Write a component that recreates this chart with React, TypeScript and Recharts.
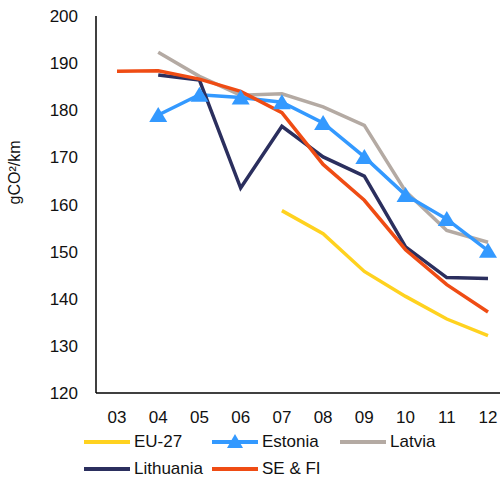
import { LineChart, Line, XAxis, YAxis } from "recharts";

const years = ["03", "04", "05", "06", "07", "08", "09", "10", "11", "12"];
const eu27 = [null, null, null, null, 158.7, 153.8, 145.8, 140.5, 135.7, 132.2];
const estonia = [null, 179, 183.3, 182.7, 181.7, 177.3, 170.1, 162, 156.9, 150.2];
const latvia = [null, 192.3, 187.2, 183.2, 183.5, 180.7, 176.8, 162.8, 154.5, 152];
const lithuania = [null, 187.5, 186.4, 163.5, 176.6, 170.1, 166, 151, 144.5, 144.3];
const sefi = [188.3, 188.4, 186.6, 184, 179.5, 168.5, 160.9, 150.4, 143, 137.2];
const yTicks = [120, 130, 140, 150, 160, 170, 180, 190, 200];

const data = years.map((y, i) => ({
  year: y,
  eu27: eu27[i],
  estonia: estonia[i],
  latvia: latvia[i],
  lithuania: lithuania[i],
  sefi: sefi[i],
}));

const font = "'Liberation Sans', Arial, sans-serif";

const Triangle = (props: any) => {
  const { cx, cy } = props;
  if (cx == null || cy == null) return null;
  return <path d={`M${cx},${cy - 8} L${cx + 9},${cy + 7} L${cx - 9},${cy + 7} Z`} fill="#3399ff" />;
};

const legendRows = [
  [
    { name: "EU-27", color: "#ffd21f", tri: false },
    { name: "Estonia", color: "#3399ff", tri: true },
    { name: "Latvia", color: "#b4aaa3", tri: false },
  ],
  [
    { name: "Lithuania", color: "#2b2f5e", tri: false },
    { name: "SE & FI", color: "#ef4c14", tri: false },
  ],
];

export default function App() {
  return (
    <div style={{ position: "absolute", left: 0, top: 0, width: 502, height: 486, background: "#fff", fontFamily: font }}>
      <LineChart width={502} height={430} data={data} margin={{ top: 16, right: 2, left: 0, bottom: 0 }}>
        <XAxis
          dataKey="year"
          padding={{ left: 21, right: 12 }}
          tick={{ fill: "#111", fontSize: 17, fontFamily: font }}
          tickLine={false}
          axisLine={{ stroke: "#000", strokeWidth: 1.5 }}
          tickMargin={12}
          height={37}
        />
        <YAxis
          domain={[120, 200]}
          ticks={yTicks}
          width={96}
          tick={{ fill: "#111", fontSize: 17, fontFamily: font }}
          tickLine={false}
          axisLine={{ stroke: "#000", strokeWidth: 1.5 }}
          tickMargin={12}
          label={{ value: "gCO²/km", angle: -90, position: "insideLeft", offset: 14, style: { fontSize: 16, fill: "#111", fontFamily: font } }}
        />
        <Line dataKey="eu27" stroke="#ffd21f" strokeWidth={3.5} dot={false} isAnimationActive={false} />
        <Line dataKey="latvia" stroke="#b4aaa3" strokeWidth={3.5} dot={false} isAnimationActive={false} />
        <Line dataKey="estonia" stroke="#3399ff" strokeWidth={3.5} dot={<Triangle />} isAnimationActive={false} />
        <Line dataKey="lithuania" stroke="#2b2f5e" strokeWidth={3.5} dot={false} isAnimationActive={false} />
        <Line dataKey="sefi" stroke="#ef4c14" strokeWidth={3.5} dot={false} isAnimationActive={false} />
      </LineChart>
      {legendRows.map((row, r) => (
        <div key={r} style={{ position: "absolute", top: 432 + r * 27, left: 84, display: "flex" }}>
          {row.map((it) => (
            <div key={it.name} style={{ width: 128, display: "flex", alignItems: "center", fontSize: 17, color: "#111" }}>
              <svg width={46} height={20} style={{ marginRight: 4 }}>
                <line x1={0} y1={10} x2={46} y2={10} stroke={it.color} strokeWidth={4} />
                {it.tri && <path d="M23,2 L31,16 L15,16 Z" fill={it.color} />}
              </svg>
              {it.name}
            </div>
          ))}
        </div>
      ))}
    </div>
  );
}
